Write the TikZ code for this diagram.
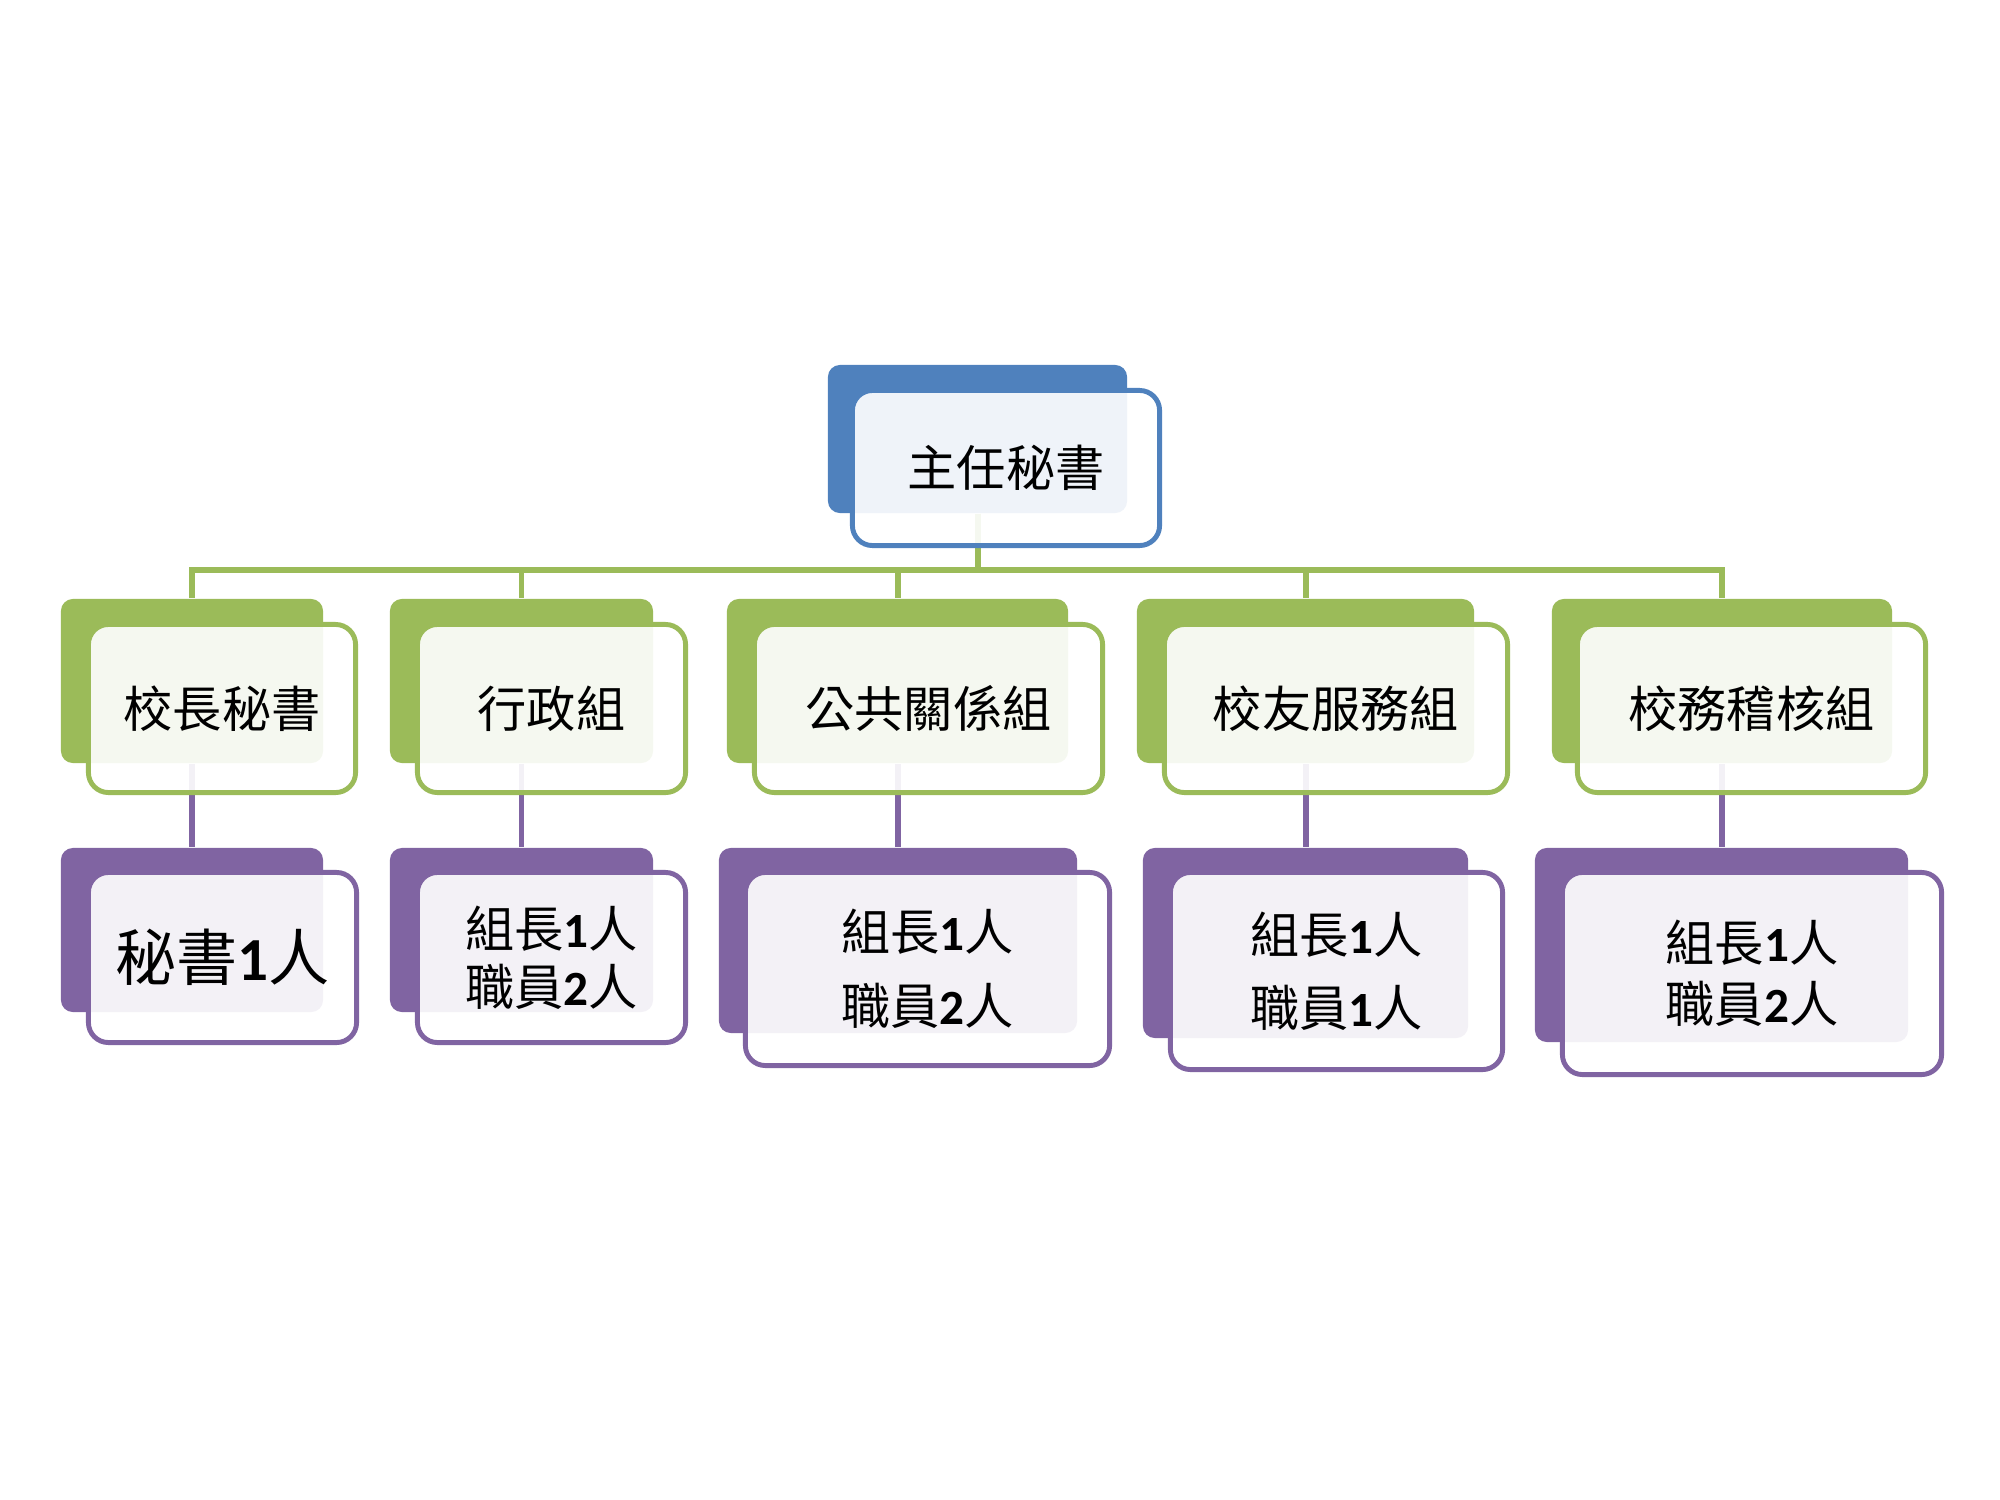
\documentclass[tikz,border=0pt]{standalone}
\usepackage{fontspec}
\setmainfont{Noto Sans CJK TC}
\newfontfamily\digitfont{Carlito}
\newcommand{\dg}[1]{{\digitfont\bfseries #1}}
\definecolor{chiefblue}{HTML}{4F81BD}
\definecolor{unitgreen}{HTML}{9BBB59}
\definecolor{staffpurple}{HTML}{8064A2}
\tikzset{
  backbox/.style={rectangle,rounded corners=0.12cm,fill=#1,inner sep=0pt},
  frontbox/.style={rectangle,rounded corners=0.2cm,draw=#1,line width=1.4pt,fill=white,fill opacity=0.91,text opacity=1,inner sep=0pt,align=center},
  linkline/.style={draw=#1,line width=1.7pt},
  txt/.style={font=\fontsize{14}{#1}\selectfont}
}

\begin{document}
\begin{tikzpicture}[x=0.01cm,y=-0.01cm]
\useasboundingbox (0,0) rectangle (2000,1500);
\node[backbox=chiefblue,minimum width=2.99cm,minimum height=1.48cm](chief-b)at(977.5,439){};
\node[backbox=unitgreen,minimum width=2.62cm,minimum height=1.64cm](sec-b)at(192,681){};
\node[backbox=unitgreen,minimum width=2.63cm,minimum height=1.64cm](adm-b)at(521.5,681){};
\node[backbox=unitgreen,minimum width=3.41cm,minimum height=1.64cm](pr-b)at(897.5,681){};
\node[backbox=unitgreen,minimum width=3.37cm,minimum height=1.64cm](alu-b)at(1305.5,681){};
\node[backbox=unitgreen,minimum width=3.40cm,minimum height=1.64cm](aud-b)at(1722,681){};
\node[backbox=staffpurple,minimum width=2.62cm,minimum height=1.64cm](sec-s-b)at(192,930){};
\node[backbox=staffpurple,minimum width=2.63cm,minimum height=1.64cm](adm-s-b)at(521.5,930){};
\node[backbox=staffpurple,minimum width=3.58cm,minimum height=1.85cm](pr-s-b)at(898,940.5){};
\node[backbox=staffpurple,minimum width=3.25cm,minimum height=1.90cm](alu-s-b)at(1305.5,943){};
\node[backbox=staffpurple,minimum width=3.73cm,minimum height=1.94cm](aud-s-b)at(1721.5,945){};
\coordinate (bus) at (0,570);
\foreach \u in {sec,adm,pr,alu,aud}{
  \draw[linkline=unitgreen] (chief-b.south) -- (chief-b.south |- bus) -| (\u-b.north);
  \draw[linkline=staffpurple] (\u-b.south) -- (\u-b.south |- \u-s-b.north);
}
\node[frontbox=chiefblue,minimum width=3.07cm,minimum height=1.55cm,txt=16](chief)at(1006,468){主任秘書};
\node[frontbox=unitgreen,minimum width=2.67cm,minimum height=1.68cm,txt=16](sec)at(222,708.5){校長秘書};
\node[frontbox=unitgreen,minimum width=2.68cm,minimum height=1.68cm,txt=16](adm)at(551.5,708.5){行政組};
\node[frontbox=unitgreen,minimum width=3.48cm,minimum height=1.68cm,txt=16](pr)at(928.5,708.5){公共關係組};
\node[frontbox=unitgreen,minimum width=3.43cm,minimum height=1.68cm,txt=16](alu)at(1336,708.5){校友服務組};
\node[frontbox=unitgreen,minimum width=3.48cm,minimum height=1.68cm,txt=16](aud)at(1751.5,708.5){校務稽核組};
\node[frontbox=staffpurple,minimum width=2.68cm,minimum height=1.70cm,font=\fontsize{17.4}{20}\selectfont](sec-s)at(222.5,957.5){秘書\dg{1}人};
\node[frontbox=staffpurple,minimum width=2.68cm,minimum height=1.70cm,txt=16.5](adm-s)at(551.5,957.5){組長\dg{1}人\\職員\dg{2}人};
\node[frontbox=staffpurple,minimum width=3.64cm,minimum height=1.93cm,txt=21](pr-s)at(927.5,969){組長\dg{1}人\\職員\dg{2}人};
\node[frontbox=staffpurple,minimum width=3.32cm,minimum height=1.97cm,txt=20.8](alu-s)at(1336.5,971){組長\dg{1}人\\職員\dg{1}人};
\node[frontbox=staffpurple,minimum width=3.79cm,minimum height=2.02cm,txt=17.4](aud-s)at(1752,973.5){組長\dg{1}人\\職員\dg{2}人};
\end{tikzpicture}
\end{document}
